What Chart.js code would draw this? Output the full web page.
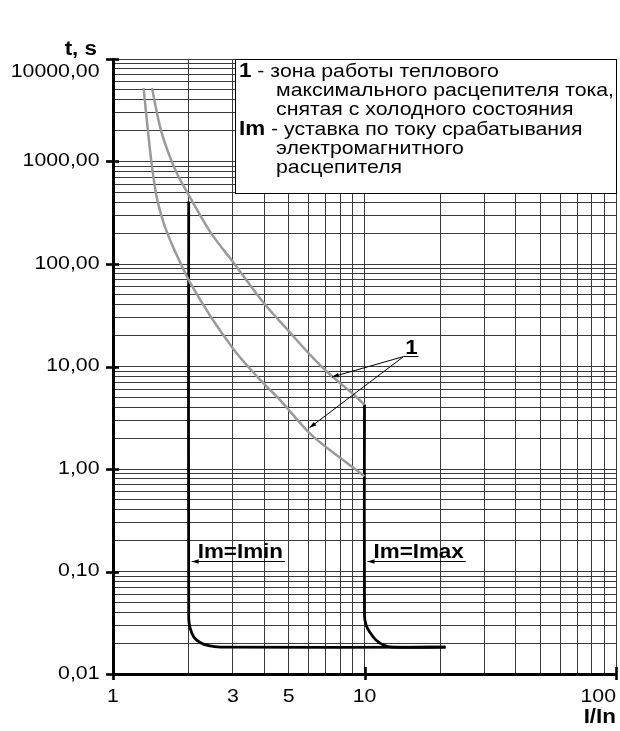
<!DOCTYPE html>
<html>
<head>
<meta charset="utf-8">
<title>Время-токовая характеристика</title>
<script src="https://cdn.jsdelivr.net/npm/chart.js@4.4.1/dist/chart.umd.min.js"></script>
<style>
  html, body { margin: 0; padding: 0; background: #fff; }
  #wrap { width: 620px; height: 731px; }
</style>
</head>
<body>
<div id="wrap"><canvas id="chart" width="620" height="731"></canvas></div>
<script>
// Thermal release zone "1" (two boundary curves), I/In -> t, s
const upperX = [1.43, 1.473, 1.542, 1.644, 1.785, 2.03, 2.436, 3.015, 4.03, 5.07, 6.08, 7.31, 8.77, 10];
const upperY = [5200, 3560, 2130, 1300, 790, 442, 206, 103, 40, 21.3, 13, 8.3, 5.7, 4.24];
const lowerX = [1.323, 1.369, 1.42, 1.486, 1.585, 1.705, 1.851, 2.028, 3, 3.85, 4.62, 6.09, 8.5, 10];
const lowerY = [5200, 2280, 1010, 472, 258, 161, 103, 65.6, 15, 7.4, 4.7, 2.2, 1.15, 0.85];

// Electromagnetic release: Im=Imin and Im=Imax
const iminX = [2, 2, 2.03, 2.1, 2.22, 2.4, 2.67, 21];
const iminY = [407, 0.035, 0.0275, 0.0228, 0.0203, 0.0189, 0.0183, 0.0183];
const imaxX = [10, 10, 10.15, 10.5, 11.1, 11.9, 12.85, 21];
const imaxY = [4.25, 0.037, 0.030, 0.0255, 0.0215, 0.0192, 0.0183, 0.0183];

// Axes
const xRange = [1, 100];
const yRange = [0.01, 10000];
const xLabelValues = [1, 3, 5, 10, 100];
const yLabelValues = [0.01, 0.1, 1, 10, 100, 1000, 10000];
const xDecades = [1, 10, 100];

// Annotations (data coordinates)
const imLabelY = 0.126;
const oneAnchor = [14.3, 12.5];
const oneTips = [[7.42, 7.9], [6.04, 2.52]];

const legendLines = [
  { bold: '1', text: ' - зона работы теплового' },
  { text: 'максимального расцепителя тока,' },
  { text: 'снятая с холодного состояния' },
  { bold: 'Im', text: ' - уставка по току срабатывания' },
  { text: 'электромагнитного' },
  { text: 'расцепителя' }
];

const SX = 1.12;
const FONT = '"Liberation Sans", Arial, Helvetica, sans-serif';
const GRID = '#3a3a3a';

function logTicks(min, max) {
  const out = [];
  for (let e = Math.round(Math.log10(min)); e < Math.round(Math.log10(max)); e++) {
    for (let m = 1; m < 10; m++) out.push({ value: m * Math.pow(10, e) });
  }
  out.push({ value: max });
  return out;
}

function toPoints(xs, ys) {
  return xs.map((x, i) => ({ x: x, y: ys[i] }));
}

function drawText(ctx, s, x, y, bold, align) {
  ctx.save();
  ctx.font = bold ? 'bold 20px ' + FONT : '19px ' + FONT;
  ctx.fillStyle = '#000';
  ctx.textAlign = align || 'left';
  ctx.textBaseline = 'alphabetic';
  ctx.translate(x, y);
  ctx.scale(SX, 1);
  ctx.fillText(s, 0, 0);
  const w = ctx.measureText(s).width * SX;
  ctx.restore();
  return w;
}

function arrow(ctx, x1, y1, x2, y2) {
  const a = Math.atan2(y2 - y1, x2 - x1);
  const c = Math.cos(a), s = Math.sin(a);
  ctx.save();
  ctx.strokeStyle = '#000';
  ctx.fillStyle = '#000';
  ctx.lineWidth = 1;
  ctx.beginPath();
  ctx.moveTo(x1, y1);
  ctx.lineTo(x2, y2);
  ctx.stroke();
  ctx.beginPath();
  ctx.moveTo(x2, y2);
  ctx.lineTo(x2 - 7 * c + 2.2 * s, y2 - 7 * s - 2.2 * c);
  ctx.lineTo(x2 - 7 * c - 2.2 * s, y2 - 7 * s + 2.2 * c);
  ctx.closePath();
  ctx.fill();
  ctx.restore();
}

function fmt(v) {
  return v.toFixed(2).replace('.', ',');
}

const overlay = {
  id: 'overlay',
  beforeDatasetsDraw(chart) {
    // legend box sits on top of the grid
    const { ctx, chartArea: a } = chart;
    ctx.save();
    ctx.fillStyle = '#fff';
    ctx.fillRect(235, a.top, a.right - 235, 134);
    ctx.strokeStyle = '#000';
    ctx.lineWidth = 1;
    ctx.strokeRect(235.5, a.top + 0.5, a.right - 235, 134);
    ctx.restore();
    legendLines.forEach((ln, i) => {
      const y = 77 + i * 19.2;
      if (ln.bold) {
        const w = drawText(ctx, ln.bold, 239, y, true);
        drawText(ctx, ln.text, 239 + w, y);
      } else {
        drawText(ctx, ln.text, 276, y);
      }
    });
  },
  afterDraw(chart) {
    const { ctx, chartArea: a } = chart;
    const xs = chart.scales.x, ys = chart.scales.y;

    // major tick marks
    ctx.save();
    ctx.strokeStyle = '#000';
    ctx.lineWidth = 2.6;
    yLabelValues.forEach(v => {
      const y = Math.round(ys.getPixelForValue(v)) + 0.5;
      ctx.beginPath(); ctx.moveTo(a.left - 7, y); ctx.lineTo(a.left + 6, y); ctx.stroke();
    });
    xDecades.forEach(v => {
      const x = Math.round(xs.getPixelForValue(v)) + 0.5;
      ctx.beginPath(); ctx.moveTo(x, a.bottom - 7); ctx.lineTo(x, a.bottom + 6); ctx.stroke();
    });
    ctx.restore();

    // tick labels
    yLabelValues.forEach(v => {
      const y = ys.getPixelForValue(v);
      drawText(ctx, fmt(v), 99.5, Math.max(y + 4.5, 77), false, 'right');
    });
    xLabelValues.forEach((v, i) => {
      const x = xs.getPixelForValue(v);
      if (i === xLabelValues.length - 1) drawText(ctx, String(v), a.right, 702, false, 'right');
      else drawText(ctx, String(v), x, 702, false, 'center');
    });

    // axis titles
    drawText(ctx, 't, s', 97, 55, true, 'right');
    drawText(ctx, 'I/In', a.right, 723, true, 'right');

    // Im=Imin / Im=Imax
    const ly = Math.round(ys.getPixelForValue(imLabelY)) + 0.5;
    [[2, 'Im=Imin'], [10, 'Im=Imax']].forEach(([v, label]) => {
      const tip = xs.getPixelForValue(v) + 3;
      const w = drawText(ctx, label, tip + 6, ly - 3.5, true);
      arrow(ctx, tip + 8 + w, ly, tip, ly);
    });

    // "1" marker for the thermal zone
    const ax = xs.getPixelForValue(oneAnchor[0]);
    const ay = ys.getPixelForValue(oneAnchor[1]);
    drawText(ctx, '1', ax + 8, ay - 2.5, true, 'center');
    ctx.save();
    ctx.strokeStyle = '#000';
    ctx.lineWidth = 1;
    ctx.beginPath(); ctx.moveTo(ax, ay); ctx.lineTo(ax + 15, ay); ctx.stroke();
    ctx.restore();
    oneTips.forEach(t => arrow(ctx, ax, ay, xs.getPixelForValue(t[0]), ys.getPixelForValue(t[1])));
  }
};

const ctx = document.getElementById('chart').getContext('2d');
new Chart(ctx, {
  type: 'line',
  data: {
    datasets: [
      { data: toPoints(upperX, upperY), borderColor: '#9a9a9a', borderWidth: 2.5, pointRadius: 0, cubicInterpolationMode: 'monotone' },
      { data: toPoints(lowerX, lowerY), borderColor: '#9a9a9a', borderWidth: 2.5, pointRadius: 0, cubicInterpolationMode: 'monotone' },
      { data: toPoints(iminX, iminY), borderColor: '#000', borderWidth: 2.8, pointRadius: 0, tension: 0.35 },
      { data: toPoints(imaxX, imaxY), borderColor: '#000', borderWidth: 2.8, pointRadius: 0, tension: 0.35 }
    ]
  },
  options: {
    responsive: false,
    animation: false,
    layout: { padding: { top: 59, right: 4, left: 0, bottom: 0 } },
    plugins: {
      legend: { display: false },
      tooltip: { enabled: false }
    },
    scales: {
      x: {
        type: 'logarithmic',
        min: xRange[0],
        max: xRange[1],
        afterBuildTicks: s => { s.ticks = logTicks(xRange[0], xRange[1]); },
        afterFit: s => { s.height = 57; },
        ticks: { display: false, autoSkip: false },
        grid: { color: GRID, lineWidth: 1, drawTicks: false },
        border: { color: '#000', width: 3 }
      },
      y: {
        type: 'logarithmic',
        min: yRange[0],
        max: yRange[1],
        afterBuildTicks: s => { s.ticks = logTicks(yRange[0], yRange[1]); },
        afterFit: s => { s.width = 113; },
        ticks: { display: false, autoSkip: false },
        grid: { color: GRID, lineWidth: 1, drawTicks: false },
        border: { color: '#000', width: 3 }
      }
    }
  },
  plugins: [overlay]
});
</script>
</body>
</html>
